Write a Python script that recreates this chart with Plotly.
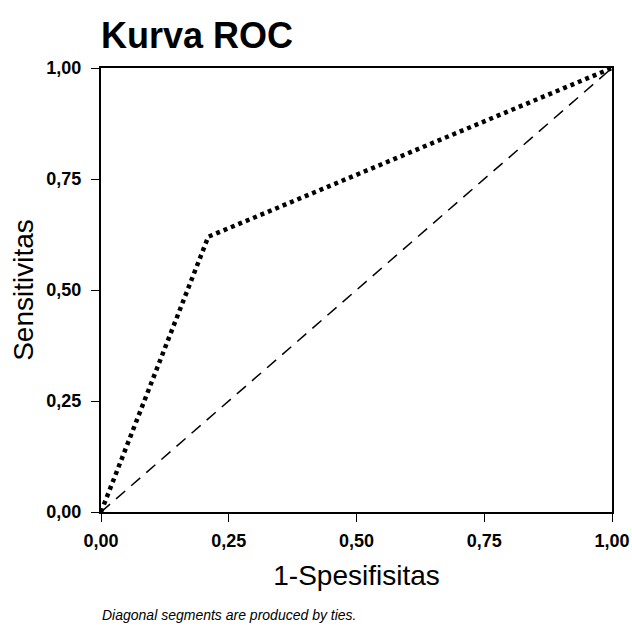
import plotly.graph_objects as go

roc_x = [0.0, 0.21, 1.0]
roc_y = [0.0, 0.62, 1.0]
ref_x = [0.0, 1.0]
ref_y = [0.0, 1.0]
tick_vals = [0.0, 0.25, 0.5, 0.75, 1.0]
tick_text = ["0,00", "0,25", "0,50", "0,75", "1,00"]

fig = go.Figure()
fig.add_trace(go.Scatter(x=ref_x, y=ref_y, mode="lines",
                         line=dict(color="black", width=1.5, dash="12px,8px"),
                         hoverinfo="skip", showlegend=False))
fig.add_trace(go.Scatter(x=roc_x, y=roc_y, mode="lines",
                         line=dict(color="black", width=4.5, dash="4px,4px"),
                         showlegend=False))

tickfont = dict(family="Liberation Sans Narrow, Arial Narrow, Liberation Sans", size=18,
                color="black", weight="bold")
axis_common = dict(range=[0, 1], tickvals=tick_vals, ticktext=tick_text,
                   showgrid=False, zeroline=False, showline=True, linecolor="black",
                   linewidth=2, mirror=True, ticks="outside", ticklen=8, tickwidth=1,
                   tickcolor="black", tickfont=tickfont, automargin=False)

fig.update_layout(
    width=632, height=626,
    paper_bgcolor="white", plot_bgcolor="white",
    margin=dict(l=101, r=20, t=68, b=114),
    title=dict(text="<b>Kurva ROC</b>", x=101/632, xanchor="left", y=1-35/626, yanchor="middle",
               font=dict(family="Liberation Sans, Arial", size=36, color="black")),
    xaxis=dict(axis_common, ticklabelstandoff=3,
               title=dict(text="1-Spesifisitas", standoff=16,
                          font=dict(family="Liberation Sans, Arial", size=28, color="black"))),
    yaxis=dict(axis_common, ticklabelstandoff=6,
               title=dict(text="Sensitivitas", standoff=5,
                          font=dict(family="Liberation Sans, Arial", size=28, color="black"))),
    annotations=[dict(text="<i>Diagonal segments are produced by ties.</i>", xref="paper", yref="paper",
                      x=(100-101)/511, y=-(615-512)/444, xanchor="left", yanchor="middle",
                      showarrow=False, font=dict(family="Liberation Sans, Arial", size=14, color="black"))],
)
fig.write_html("out.html", config={"displayModeBar": False},
               post_script="document.body.style.margin='0';")
